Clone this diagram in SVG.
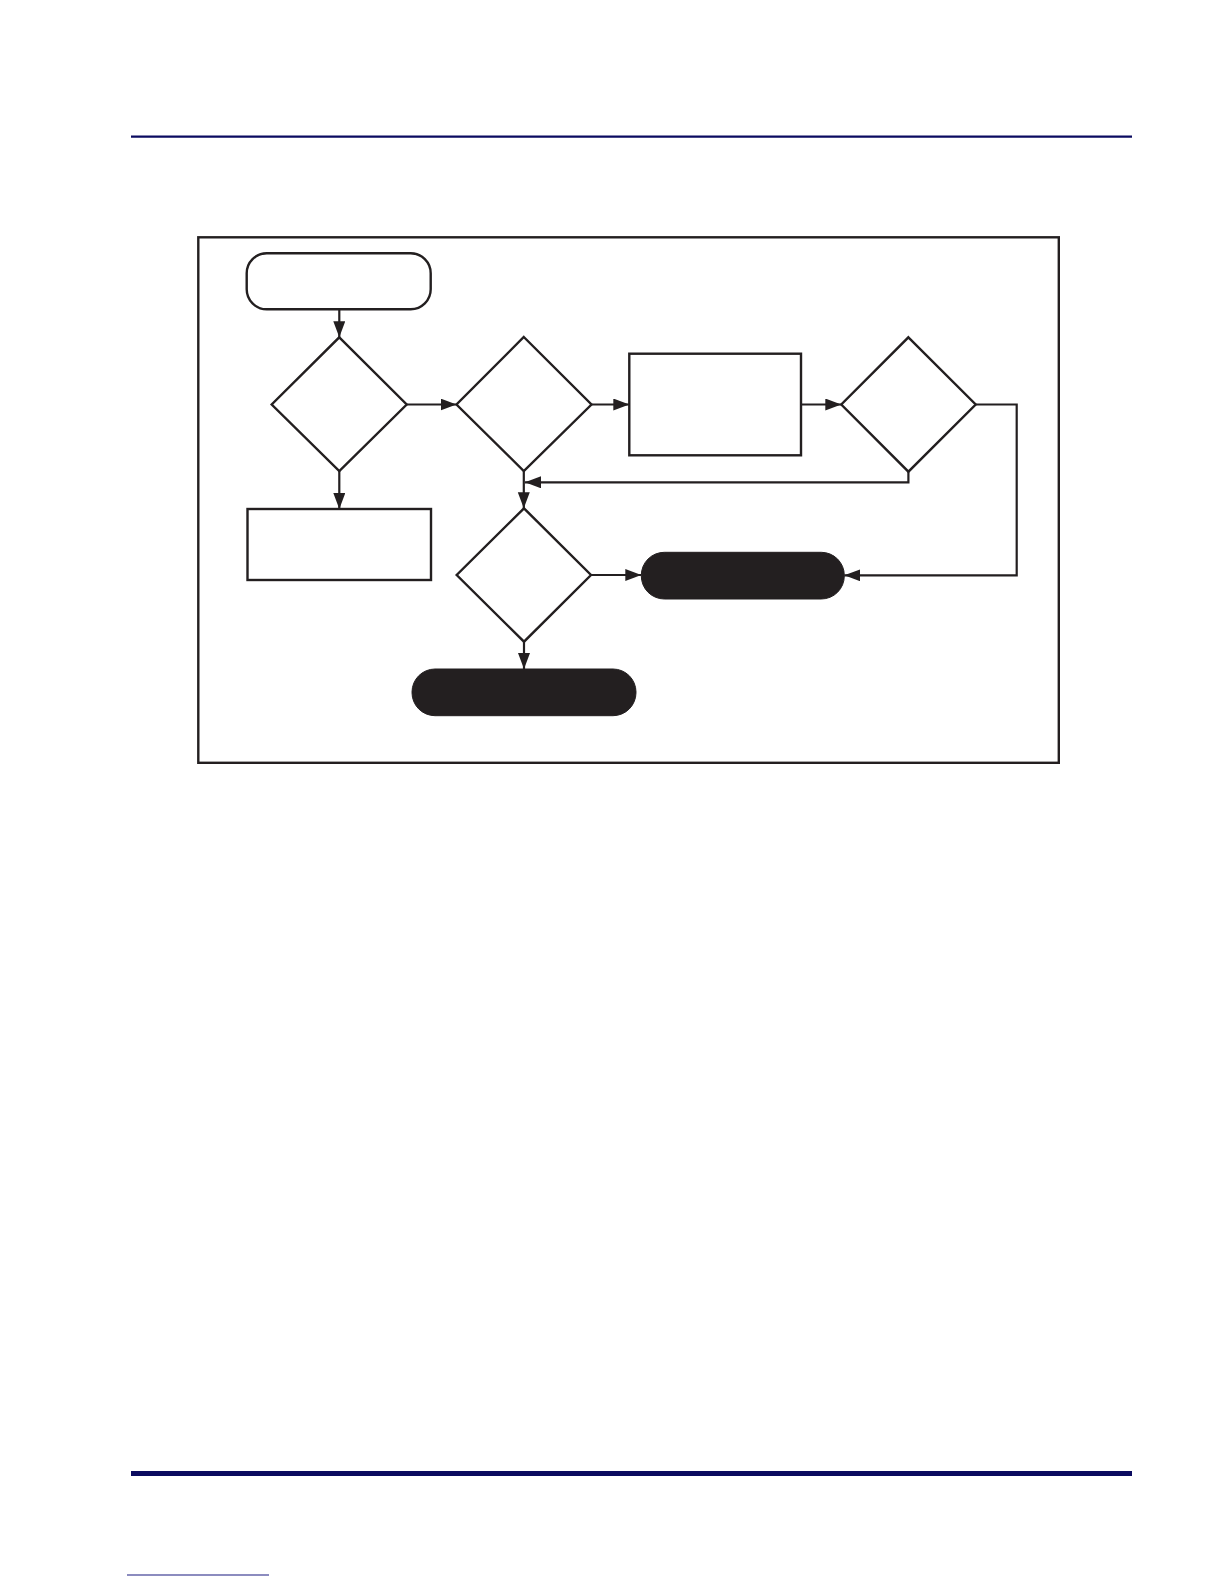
<svg xmlns="http://www.w3.org/2000/svg" width="1224" height="1584" viewBox="0 0 1224 1584">
<style>
.node{fill:#ffffff;stroke:#231f20;stroke-width:2.4}
.term{fill:#231f20;stroke:#231f20;stroke-width:1}
.conn{fill:none;stroke:#231f20;stroke-width:2.2}
.rule{stroke:#0b0b60}
</style>
<defs>
<marker id="ah" markerUnits="userSpaceOnUse" markerWidth="17" markerHeight="13" refX="16" refY="6" orient="auto">
<path d="M0,0 L16,6 L0,12 z" fill="#231f20"/>
</marker>
</defs>
<rect width="1224" height="1584" fill="#ffffff"/>
<g id="page-rules">
<line class="rule" x1="131" y1="136.7" x2="1132" y2="136.7" stroke-width="2.2"/>
<line class="rule" x1="131" y1="1473.5" x2="1132" y2="1473.5" stroke-width="5"/>
<line x1="127" y1="1575" x2="269" y2="1575" stroke="#1a1a80" stroke-width="1.2"/>
</g>
<g id="frame">
<rect x="198.3" y="237.3" width="860.5" height="525.5" fill="none" stroke="#231f20" stroke-width="2.4"/>
</g>
<g id="start">
<rect class="node" x="246.7" y="253.3" width="184" height="56" rx="20" ry="20"/>
</g>
<g id="decision1">
<polygon class="node" points="339.3,337.3 406.7,404.5 339.3,471 271.7,404.5"/>
</g>
<g id="process-left">
<rect class="node" x="247.5" y="509" width="183.5" height="71"/>
</g>
<g id="decision2">
<polygon class="node" points="523.8,337 591.5,404.5 523.8,471 456.5,404.5"/>
</g>
<g id="process-top">
<rect class="node" x="629.3" y="353.7" width="171.7" height="101.6"/>
</g>
<g id="decision4">
<polygon class="node" points="908.4,337.3 975.7,404.5 908.4,471.7 841.3,404.5"/>
</g>
<g id="decision3">
<polygon class="node" points="524,508.3 591,575 524,641.7 456.7,575"/>
</g>
<g id="terminal-right">
<rect class="term" x="641.3" y="552.3" width="203" height="46.7" rx="23" ry="23"/>
</g>
<g id="terminal-bottom">
<rect class="term" x="412" y="669" width="224" height="46.7" rx="23" ry="23"/>
</g>
<g id="connectors">
<path class="conn" d="M339.3,309.3 V337.3" marker-end="url(#ah)"/>
<path class="conn" d="M339.3,471 V509" marker-end="url(#ah)"/>
<path class="conn" d="M406.7,404.5 H456.5" marker-end="url(#ah)"/>
<path class="conn" d="M591.5,404.5 H629.3" marker-end="url(#ah)"/>
<path class="conn" d="M801,404.5 H841.3" marker-end="url(#ah)"/>
<path class="conn" d="M523.8,471 V508.3" marker-end="url(#ah)"/>
<path class="conn" d="M908.4,471.7 V482.3 H525" marker-end="url(#ah)"/>
<path class="conn" d="M591,575 H641.3" marker-end="url(#ah)"/>
<path class="conn" d="M975.7,404.5 H1016.7 V575.3 H844.3" marker-end="url(#ah)"/>
<path class="conn" d="M524,641.7 V669" marker-end="url(#ah)"/>
</g>
</svg>
